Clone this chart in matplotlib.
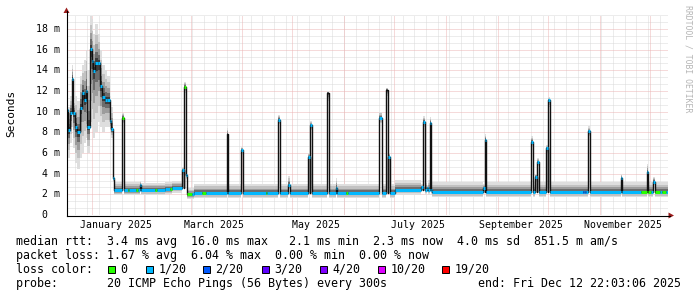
import matplotlib
matplotlib.use("Agg")
import matplotlib.pyplot as plt
import matplotlib.dates as mdates
from matplotlib.lines import Line2D
from matplotlib.patches import Rectangle, Polygon
import pandas as pd

W, H = 697, 297
START = pd.Timestamp("2024-12-17 22:03")
END = pd.Timestamp("2025-12-12 22:03")
MONO = "DejaVu Sans Mono"

# volatile start of the period (median / smoke min / smoke max, ms)
early_dates = ["2024-12-17 22:03", "2024-12-18 12:00", "2024-12-19 10:00", "2024-12-20 18:00",
               "2024-12-21 18:00", "2024-12-22 20:00", "2024-12-24 00:00", "2024-12-25 12:00",
               "2024-12-27 00:00", "2024-12-28 08:00", "2024-12-29 02:00", "2024-12-30 02:00",
               "2024-12-31 12:00", "2025-01-02 00:00", "2025-01-02 18:00", "2025-01-03 20:00",
               "2025-01-05 12:00", "2025-01-06 20:00", "2025-01-08 02:00", "2025-01-09 12:00",
               "2025-01-11 00:00", "2025-01-12 12:00", "2025-01-13 12:00", "2025-01-14 06:00"]
early_median = [10.2, 8.2, 9.9, 13.2, 9.9, 8.5, 8.0, 10.4, 11.8, 11.1, 12.0, 8.5,
                16.1, 14.9, 13.9, 14.7, 14.7, 12.5, 11.4, 11.1, 11.1, 9.1, 8.3, 3.6]
early_min = [6.5, 5.5, 7.0, 8.5, 6.5, 5.0, 4.5, 5.5, 6.0, 7.0, 7.5, 6.0,
             9.0, 8.5, 7.5, 8.0, 9.0, 8.5, 8.0, 8.5, 8.5, 8.0, 7.5, 3.2]
early_max = [11.0, 10.5, 11.5, 14.5, 10.8, 11.5, 11.0, 13.5, 14.5, 15.0, 16.0, 14.0,
             19.3, 19.0, 17.5, 18.5, 17.5, 16.0, 14.5, 14.0, 13.5, 11.5, 10.5, 4.2]

# quiet baseline levels
base_dates = ["2025-01-14 22:00", "2025-01-31 06:00", "2025-02-14 12:00", "2025-02-19 00:00",
              "2025-02-27 22:00", "2025-03-04 00:00", "2025-07-02 12:00", "2025-07-24 12:00"]
base_median = [2.4, 2.45, 2.5, 2.65, 2.0, 2.15, 2.45, 2.25]
base_min = [1.9, 1.9, 2.0, 2.15, 1.55, 1.65, 1.95, 1.7]
base_max = [3.2, 3.1, 3.2, 3.3, 2.6, 3.0, 3.35, 3.2]

# short excursions: start, length (days), median, smoke min, smoke max, loss class
spike_dates = ["2025-01-19 20:00", "2025-01-30 12:00", "2025-02-25 00:00", "2025-02-26 05:00",
               "2025-02-27 05:00", "2025-03-23 12:00", "2025-04-01 10:00", "2025-04-23 06:00",
               "2025-04-29 10:00", "2025-05-11 08:00", "2025-05-12 16:00", "2025-05-22 12:00",
               "2025-05-28 00:00", "2025-06-22 20:00", "2025-06-27 06:00", "2025-06-28 10:00",
               "2025-07-18 06:00", "2025-07-19 04:00", "2025-07-21 08:00", "2025-07-23 04:00",
               "2025-08-24 06:00", "2025-08-25 02:00", "2025-09-22 02:00", "2025-09-24 12:00",
               "2025-09-25 12:00", "2025-10-01 02:00", "2025-10-02 00:00", "2025-10-26 00:00",
               "2025-11-14 12:00", "2025-11-30 02:00", "2025-12-04 02:00"]
spike_days = [1.2, 0.8, 1.2, 1.0, 0.8, 1.0, 1.0, 1.1, 0.9, 1.0, 1.0, 1.1,
              0.8, 1.6, 1.1, 0.9, 0.9, 1.0, 0.8, 1.0, 0.8, 1.0, 1.0, 0.9,
              0.9, 0.9, 1.0, 1.0, 0.9, 0.9, 0.9]
spike_median = [9.4, 2.9, 4.35, 12.4, 3.9, 7.8, 6.3, 9.2, 2.9, 5.6, 8.7, 11.8,
                2.6, 9.4, 12.1, 5.6, 2.7, 9.0, 2.6, 8.9, 2.6, 7.3, 7.1, 3.7,
                5.1, 6.45, 11.1, 8.1, 3.55, 4.2, 3.2]
spike_min = [8.9, 2.5, 3.9, 11.8, 3.5, 7.2, 5.8, 8.8, 2.5, 5.2, 8.2, 11.0,
             2.3, 8.9, 11.5, 5.2, 2.4, 8.5, 2.2, 8.4, 2.3, 6.8, 6.6, 3.3,
             4.7, 6.0, 10.5, 7.6, 3.2, 3.7, 2.9]
spike_max = [9.9, 3.3, 4.6, 12.9, 4.1, 8.4, 6.6, 9.7, 3.8, 6.0, 9.1, 12.0,
             3.6, 10.0, 12.3, 6.0, 3.0, 9.6, 2.9, 9.5, 3.0, 7.8, 7.6, 4.0,
             5.5, 6.8, 11.4, 8.6, 4.0, 4.9, 3.7]
spike_loss = [0, 1, 1, 0, 1, -1, 1, 1, 1, 1, 1, -1,
              1, 1, -1, 1, 1, 1, 1, 1, 1, 1, 1, 1,
              1, 1, 1, 1, 1, 1, 1]

# stretches of the baseline with another loss class
patch_dates = ["2025-01-23 06:00", "2025-01-28 12:00", "2025-02-08 12:00", "2025-02-17 12:00",
               "2025-02-28 00:00", "2025-03-08 12:00", "2025-04-16 00:00", "2025-06-03 00:00",
               "2025-10-23 00:00", "2025-10-24 00:00", "2025-11-26 18:00", "2025-12-01 00:00",
               "2025-12-05 10:00", "2025-12-09 06:00"]
patch_days = [0.8, 0.8, 1.2, 1.2, 3.0, 2.5, 1.0, 1.0, 0.6, 0.6, 3.3, 1.6, 2.6, 2.6]
patch_loss = [0, 0, 0, 0, 0, 0, 0, 0, 2, 2, 0, 0, 0, 0]

loss_colors = ["#26ff00", "#00b8ff", "#0059ff", "#5e00ff", "#7e00ff", "#dd00ff", "#ff0000"]
loss_labels = ["0", "1/20", "2/20", "3/20", "4/20", "10/20", "19/20"]

month_labels = ["2025-01-16", "2025-03-16", "2025-05-16", "2025-07-16", "2025-09-16", "2025-11-16"]
y_ticks = [0, 2, 4, 6, 8, 10, 12, 14, 16, 18]

stats_lines = [
    "median rtt:  3.4 ms avg  16.0 ms max   2.1 ms min  2.3 ms now  4.0 ms sd  851.5 m am/s",
    "packet loss: 1.67 % avg  6.04 % max  0.00 % min  0.00 % now",
    "loss color:",
    "probe:       20 ICMP Echo Pings (56 Bytes) every 300s",
]
end_text = "end: Fri Dec 12 22:03:06 2025"


def num(t):
    return mdates.date2num(pd.Timestamp(t).to_pydatetime())


def overlay(ivs, t0, t1, med=None, lo=None, hi=None, loss=None):
    out = []
    for iv in ivs:
        a, b = iv[0], iv[1]
        if b <= t0 or a >= t1:
            out.append(iv)
            continue
        if a < t0:
            out.append([a, t0] + iv[2:])
        out.append([max(a, t0), min(b, t1),
                    iv[2] if med is None else med,
                    iv[3] if lo is None else lo,
                    iv[4] if hi is None else hi,
                    iv[5] if loss is None else loss])
        if b > t1:
            out.append([t1, b] + iv[2:])
    return out


starts = [num(d) for d in early_dates + base_dates]
edges = starts + [num(END)]
meds = early_median + base_median
los = early_min + base_min
his = early_max + base_max
ivs = [[edges[i], edges[i + 1], meds[i], los[i], his[i], 1] for i in range(len(starts))]
for d, w, m, lo, hi, ls in zip(spike_dates, spike_days, spike_median, spike_min, spike_max, spike_loss):
    ivs = overlay(ivs, num(d), num(d) + w, m, lo, hi, ls)
for d, w, ls in zip(patch_dates, patch_days, patch_loss):
    ivs = overlay(ivs, num(d), num(d) + w, loss=ls)

t = [iv[0] for iv in ivs] + [ivs[-1][1]]
med = [iv[2] for iv in ivs] + [ivs[-1][2]]
lo = [iv[3] for iv in ivs] + [ivs[-1][3]]
hi = [iv[4] for iv in ivs] + [ivs[-1][4]]

fig = plt.figure(figsize=(W / 100, H / 100), dpi=100)
fig.patch.set_facecolor("white")


def fx(px):
    return px / W


def fy(py):
    return 1 - py / H


YMAX = 19.4
ax = fig.add_axes([fx(67), fy(215), fx(668) - fx(67), YMAX * 10.333 / H])
ax.set_xlim(num(START), num(END))
ax.set_ylim(0, YMAX)
ax.axis("off")

# grid: faint 1px dotted lines
dots = (0, (1, 1))
grid_kw = dict(lw=0.72, ls=dots)
for k in range(1, 30):
    if k % 3:
        ax.axhline(k * 2 / 3, color="#dadada", zorder=0, **grid_kw)
for d in pd.date_range(START, END, freq="W-SUN"):
    ax.axvline(num(d), color="#dadada", zorder=0, **grid_kw)
for v in y_ticks[1:]:
    ax.axhline(v, color="#ecb6b6", zorder=1, **grid_kw)
for d in pd.date_range(START, END, freq="MS"):
    ax.axvline(num(d), color="#ecb6b6", zorder=1, **grid_kw)

# smoke
shades = [(1.0, "#dedede"), (0.72, "#c2c2c2"), (0.48, "#9c9c9c"), (0.28, "#6c6c6c"), (0.12, "#3c3c3c")]
for f, c in shades:
    ax.fill_between(t, [m - f * (m - l) for m, l in zip(med, lo)],
                    [m + f * (h - m) for m, h in zip(med, hi)],
                    step="post", color=c, lw=0, zorder=2)

# median
ax.step(t, med, where="post", color="#111111", lw=1.0, zorder=3)
for iv in ivs:
    if iv[5] >= 0:
        ax.hlines(iv[2], iv[0], iv[1], colors=loss_colors[iv[5]], lw=2.2,
                  capstyle="butt", zorder=4)

# axes with arrows
fig.add_artist(Line2D([fx(66.5), fx(66.5)], [fy(215.5), fy(11)], color="black", lw=0.8))
fig.add_artist(Line2D([fx(66.5), fx(670)], [fy(215.5), fy(215.5)], color="black", lw=0.8))
arrow_c = "#9b1c1c"
fig.add_artist(Polygon([(fx(66.5), fy(7.5)), (fx(63.5), fy(13)), (fx(69.5), fy(13))],
                       closed=True, color=arrow_c, lw=0))
fig.add_artist(Polygon([(fx(674), fy(215.5)), (fx(668.5), fy(212.5)), (fx(668.5), fy(218.5))],
                       closed=True, color=arrow_c, lw=0))

# y tick labels
for v in y_ticks:
    lab = " 0" if v == 0 else "%2d m" % v
    fig.text(fx(36), fy(215 - v * 10.333), lab, ha="left", va="center",
             family=MONO, fontsize=7.1)

# x labels, centred on the middle of the month
for d in month_labels:
    ts = pd.Timestamp(d)
    xp = 67 + (num(ts) - num(START)) / (num(END) - num(START)) * 601
    fig.text(fx(xp), fy(228.5), ts.strftime("%B %Y"), ha="center", va="baseline",
             family=MONO, fontsize=7.1)

fig.text(fx(11), fy(113), "Seconds", rotation=90, ha="center", va="center",
         family=MONO, fontsize=8)
fig.text(fx(688), fy(5), "RRDTOOL / TOBI OETIKER", rotation=270, ha="center", va="top",
         family=MONO, fontsize=5.9, color="#b5b5b5")

# legend
for i, line in enumerate(stats_lines):
    fig.text(fx(16), fy(245 + 14 * i), line, ha="left", va="baseline",
             family=MONO, fontsize=8.4)
fig.text(fx(478), fy(287), end_text, ha="left", va="baseline", family=MONO, fontsize=8.4)

swatch_x = [108, 146, 203, 262, 320, 378, 442]
for x0, c, lab in zip(swatch_x, loss_colors, loss_labels):
    fig.add_artist(Rectangle((fx(x0), fy(272.5)), 7 / W, 7 / H, facecolor=c,
                             edgecolor="black", lw=0.7))
    fig.text(fx(x0 + 12.5), fy(273), lab, ha="left", va="baseline", family=MONO, fontsize=8.4)

fig.savefig("out.png", dpi=100, facecolor="white")
